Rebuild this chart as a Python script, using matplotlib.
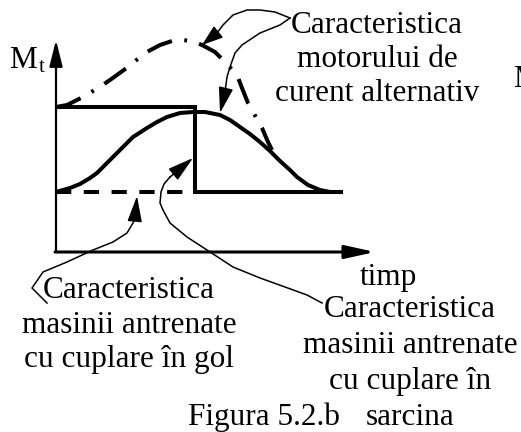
import numpy as np
import matplotlib
matplotlib.use('Agg')
import matplotlib.pyplot as plt

plt.rcParams['font.family'] = ['Liberation Serif', 'DejaVu Serif']
plt.rcParams['lines.scale_dashes'] = False

# diagram data (t, M), origin at the axes corner
t_load = [0, 139, 139, 287]          # machine coupled under load (step)
m_load = [145, 145, 60, 60]
t_idle = [0, 139]                    # machine coupled idle (dashed)
m_idle = [60, 60]
t_bell = [0, 14, 24, 34, 41, 54, 67, 77, 91, 101, 111, 124, 137, 149, 164, 174,
          184, 194, 204, 214, 224, 234, 241, 252, 264, 274, 286]
m_bell = [60, 64, 68, 74, 79, 92, 105, 115, 124, 130, 135, 139, 140, 140, 137, 132,
          125, 118, 110, 101, 91, 82, 75, 67, 62, 60, 60]
t_motor = [0, 11, 27, 42, 54, 72, 89, 104, 116, 126, 136, 146, 159, 170, 181, 186,
           192, 206, 212, 216]
m_motor = [145, 147, 155, 164, 172, 185, 199, 207, 211, 212, 211, 207, 200, 189, 177, 164,
           149, 124, 110, 102]

# annotation leader lines
lead_a = [(234, 234), (219, 240), (204, 242), (191, 242), (177, 237), (167, 227), (161, 219), (146, 207)]
lead_b = [(234, 234), (224, 227), (204, 219), (186, 207), (179, 199), (174, 185), (171, 175), (169, 160), (164, 139)]
lead_c = [(-9, -51), (-24, -36), (-13, -20), (11, -10), (37, 2), (57, 10), (71, 19), (77, 29), (79, 34), (81, 56)]
lead_d = [(266, -51), (251, -43), (229, -35), (204, -26), (177, -15), (151, 2), (131, 15), (114, 29),
          (107, 42), (104, 49), (105, 60), (108, 68), (114, 75), (137, 94)]

fig = plt.figure(figsize=(5.21, 4.32), dpi=100)
ax = fig.add_axes([0, 0, 1, 1])
ax.set_xlim(-56, 465)
ax.set_ylim(-180, 252)
ax.axis('off')

# axes arrows
ax.annotate('', xy=(0, 212), xytext=(0, 0),
            arrowprops=dict(arrowstyle='-|>,head_length=1.6,head_width=0.4', lw=1.6, color='k',
                            shrinkA=0, shrinkB=0, mutation_scale=10))
ax.annotate('', xy=(319, 0), xytext=(-1, 0),
            arrowprops=dict(arrowstyle='-|>,head_length=1.8,head_width=0.4', lw=2.2, color='k',
                            shrinkA=0, shrinkB=0, mutation_scale=10))

lw = 2.9
ax.plot(t_load, m_load, color='k', lw=lw, solid_joinstyle='miter', solid_capstyle='butt')
ax.plot(t_idle, m_idle, color='k', lw=lw, linestyle=(0, (11, 9)), dash_capstyle='butt')
ax.plot(t_bell, m_bell, color='k', lw=lw, solid_joinstyle='round', solid_capstyle='butt')
ax.plot(t_motor, m_motor, color='k', lw=lw, linestyle=(0, (19, 9, 2, 9)),
        dash_capstyle='butt', dash_joinstyle='round')

for lead, hl in [(lead_a, 1.3), (lead_b, 1.6), (lead_c, 1.6), (lead_d, 1.6)]:
    xs = [p[0] for p in lead]
    ys = [p[1] for p in lead]
    ax.plot(xs[:-1], ys[:-1], color='k', lw=1.1, solid_joinstyle='round')
    ax.annotate('', xy=lead[-1], xytext=lead[-2],
                arrowprops=dict(arrowstyle='-|>,head_length=%.2f,head_width=0.45' % hl, lw=1.1,
                                color='k', shrinkA=0, shrinkB=0, mutation_scale=10))

fs = 22.5
for txt, yy in [('Caracteristica', 219), ('motorului de', 185), ('curent alternativ', 151)]:
    ax.text(321, yy, txt, ha='center', va='baseline', fontsize=fs)
for txt, yy in [('Caracteristica', -46), ('masinii antrenate', -81), ('cu cuplare în gol', -115)]:
    ax.text(73, yy, txt, ha='center', va='baseline', fontsize=fs)
for txt, yy in [('Caracteristica', -65), ('masinii antrenate', -101), ('cu cuplare în', -137), ('sarcina', -173)]:
    ax.text(354, yy, txt, ha='center', va='baseline', fontsize=fs)
ax.text(332, -33, 'timp', ha='center', va='baseline', fontsize=fs)
ax.text(208, -173, 'Figura 5.2.b', ha='center', va='baseline', fontsize=fs)
ax.text(-47, 184, 'M', ha='left', va='baseline', fontsize=fs)
ax.text(-17, 180, 't', ha='left', va='baseline', fontsize=15)
ax.text(457, 165, 'M', ha='left', va='baseline', fontsize=fs)

fig.savefig('out.png', dpi=100)
